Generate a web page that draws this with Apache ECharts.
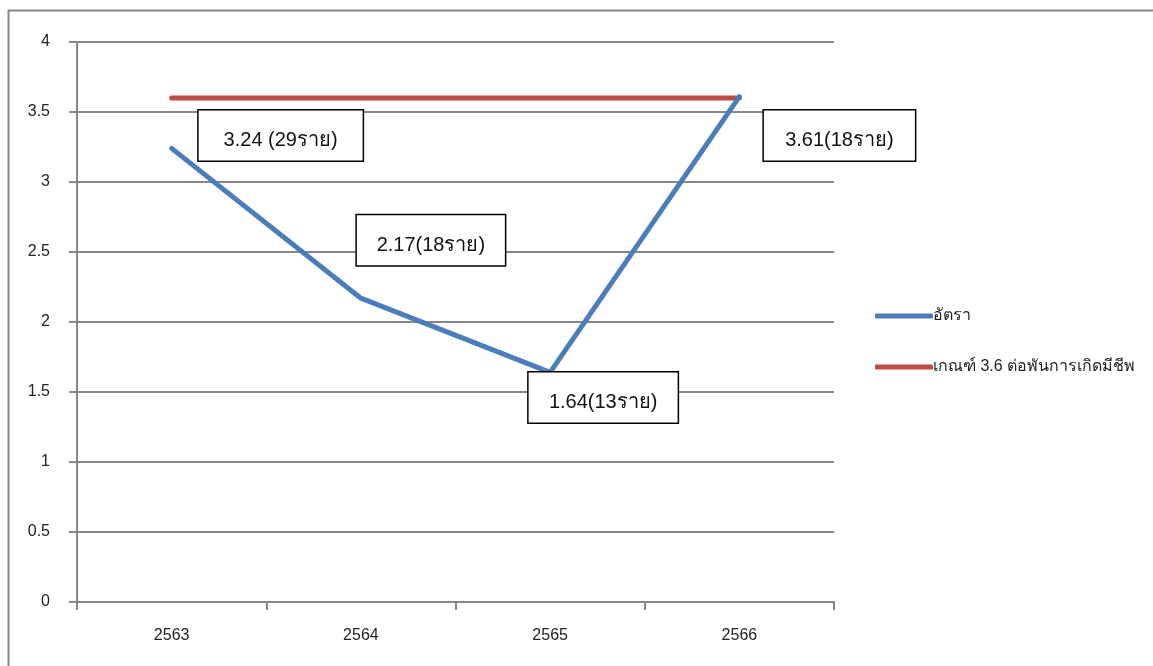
<!DOCTYPE html>
<html>
<head>
<meta charset="utf-8">
<script src="https://cdn.jsdelivr.net/npm/echarts@6/dist/echarts.min.js"></script>
<style>
  html, body { margin: 0; padding: 0; background: #fff; }
  #chart { width: 1153px; height: 666px; }
</style>
</head>
<body>
<div id="chart"></div>
<script>
// Years (Buddhist era)
const years = ['2563', '2564', '2565', '2566'];
// Rate per 1,000 live births
const rateValues = [3.24, 2.17, 1.64, 3.61];
// Case counts shown next to each rate
const rateLabels = ['3.24 (29ราย)', '2.17(18ราย)', '1.64(13ราย)', '3.61(18ราย)'];
// Target threshold
const thresholdValues = [3.6, 3.6, 3.6, 3.6];
const seriesNames = ['อัตรา', 'เกณฑ์ 3.6 ต่อพันการเกิดมีชีพ'];

const FONT = "'Liberation Sans', Arial, 'Noto Sans', sans-serif";
const AXIS_GRAY = '#868686';
const BLUE = '#4A7EBB';
const RED = '#BE4B48';

// Callout box placement relative to each point (pixels)
const calloutOffsets = [[109, -13], [70, -58], [53, 25], [100, 39]];
const calloutWidths = [167, 151, 152, 154];

const chart = echarts.init(document.getElementById('chart'), null, { renderer: 'canvas' });

const rateData = rateValues.map((v, i) => ({
  value: v,
  label: {
    show: true,
    position: 'inside',
    offset: calloutOffsets[i],
    formatter: '{t|' + rateLabels[i] + '}',
    width: calloutWidths[i] - 3,
    align: 'center'
  }
}));

chart.setOption({
  backgroundColor: '#ffffff',
  animation: false,
  textStyle: { fontFamily: FONT },
  graphic: [
    {
      type: 'polyline',
      silent: true,
      shape: { points: [[8.5, 666], [8.5, 10.5], [1153, 10.5]] },
      style: { stroke: AXIS_GRAY, lineWidth: 2, fill: null }
    }
  ],
  grid: { left: 77, right: 319, top: 42, bottom: 64, containLabel: false },
  legend: {
    orient: 'vertical',
    left: 870,
    top: 303,
    itemWidth: 58,
    itemHeight: 5,
    itemGap: 35,
    icon: 'roundRect',
    textStyle: { fontSize: 16, color: '#222', fontFamily: FONT, padding: [0, 0, 0, -5] },
    data: [
      { name: seriesNames[0], itemStyle: { color: BLUE, opacity: 1 } },
      { name: seriesNames[1], itemStyle: { color: RED, opacity: 1 } }
    ]
  },
  xAxis: {
    type: 'category',
    data: years,
    boundaryGap: true,
    axisLine: { lineStyle: { color: AXIS_GRAY, width: 2 } },
    axisTick: { show: true, length: 8, lineStyle: { color: AXIS_GRAY, width: 2 } },
    axisLabel: { margin: 26, fontSize: 16, color: '#222', fontFamily: FONT },
    splitLine: { show: false }
  },
  yAxis: {
    type: 'value',
    min: 0,
    max: 4,
    interval: 0.5,
    axisLine: { show: true, lineStyle: { color: AXIS_GRAY, width: 2 } },
    axisTick: { show: true, length: 8, lineStyle: { color: AXIS_GRAY, width: 2 } },
    axisLabel: { margin: 27, fontSize: 16, color: '#222', fontFamily: FONT },
    splitLine: { show: true, lineStyle: { color: AXIS_GRAY, width: 2 } }
  },
  series: [
    {
      name: seriesNames[1],
      type: 'line',
      data: thresholdValues,
      color: RED,
      symbol: 'none',
      lineStyle: { width: 5, color: RED, cap: 'round' },
      z: 2
    },
    {
      name: seriesNames[0],
      type: 'line',
      data: rateData,
      color: BLUE,
      showSymbol: true,
      symbol: 'circle',
      symbolSize: 2,
      itemStyle: { color: BLUE },
      lineStyle: { width: 5, color: BLUE, cap: 'round', join: 'round' },
      label: {
        show: true,
        backgroundColor: '#ffffff',
        borderColor: '#000000',
        borderWidth: 1.5,
        padding: [12, 0, 12, 0],
        rich: {
          t: {
            fontSize: 20,
            lineHeight: 26,
            color: '#111',
            fontFamily: FONT,
            padding: [10, 0, 0, 0]
          }
        }
      },
      z: 3
    }
  ]
});
</script>
</body>
</html>
